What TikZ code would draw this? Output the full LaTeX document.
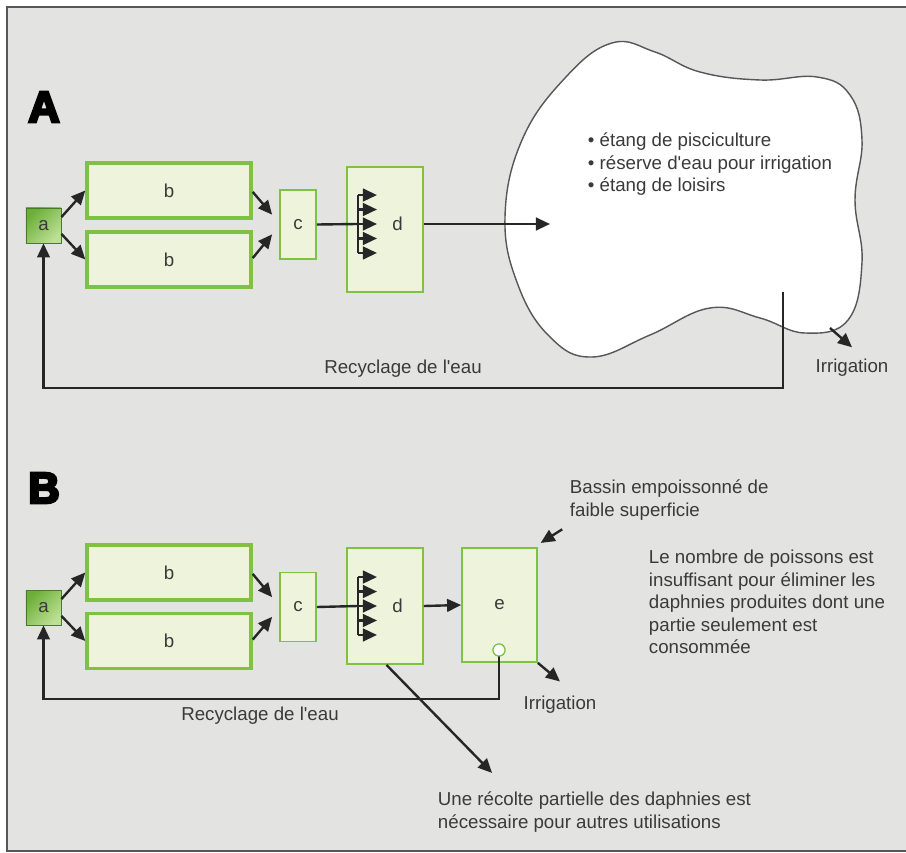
\documentclass[tikz,border=0pt]{standalone}
\usepackage{fontspec}
\setmainfont{Liberation Sans}
\newfontfamily\panelfont[FakeBold=6]{Liberation Sans Bold}
\usetikzlibrary{arrows.meta}

\definecolor{paneback}{HTML}{E3E3E1}
\definecolor{frameline}{HTML}{55575A}
\definecolor{leaf}{HTML}{7FC142}
\definecolor{leaflight}{HTML}{EEF4DC}
\definecolor{leafdark}{HTML}{6BAE38}
\definecolor{leafpale}{HTML}{BDE094}
\definecolor{inkgray}{HTML}{3A3A3A}
\definecolor{arrowink}{HTML}{262626}

\tikzset{
  tank/.style={draw=leaf, line width=2.4pt, fill=leaflight, minimum width=4.1cm, minimum height=1.375cm},
  unit/.style={draw=leaf, line width=1.2pt, fill=leaflight, inner sep=0pt},
  source/.style={draw=leafdark!70!black, line width=0.6pt, minimum size=0.875cm, inner sep=0pt,
    left color=leafdark, right color=leafpale, shading angle=45},
  flow/.style={draw=arrowink, line width=1.7pt, -{Triangle[length=10pt,width=9pt]}},
  plain/.style={draw=arrowink, line width=1.7pt},
  panel/.style={font=\panelfont\fontsize{31}{31}\selectfont, text=black},
}

\begin{document}
\begin{tikzpicture}[x=0.025cm, y=-0.025cm,
    every node/.style={text=inkgray, font=\fontsize{13.3}{16}\selectfont}]
  \useasboundingbox (0,0) rectangle (906,853);
  \fill[white] (0,0) rectangle (906,853);
  \draw[frameline, line width=1.2pt, fill=paneback] (7,7) rectangle (915,851);

  % ---------- Panel A ----------
  \node[panel] (titleA) at (44,107) {A};

  % pond outline
  \draw[frameline, line width=1pt, fill=white] plot[smooth cycle, tension=0.7] coordinates
    { (612,43) (655,52) (700,72) (760,80) (817,77) (850,95) (862,140) (855,200)
      (862,262) (848,320) (805,333) (760,318) (710,308) (650,335) (592,357)
      (550,337) (518,285) (505,217) (522,140) (565,78) };
  \node[anchor=north west, align=left] (pondlist) at (583,128)
    {\textbullet{} étang de pisciculture\\ \textbullet{} réserve d\textquotesingle eau pour irrigation\\ \textbullet{} étang de loisirs};

  % units
  \node[source] (aA) at (43.5,225.5) {a};
  \node[tank] (b1A) at (169,190.5) {b};
  \node[tank] (b2A) at (169,259.5) {b};
  \node[unit, minimum width=0.9cm, minimum height=1.725cm] (cA) at (298,224.5) {c};
  \node[unit, minimum width=1.9cm, minimum height=3.125cm, label={[xshift=9pt,yshift=4pt]center:d}] (dA) at (385,229.5) {};

  \draw[flow] ([yshift=6pt]aA.east) -- (b1A.west);
  \draw[flow] ([yshift=-6pt]aA.east) -- (b2A.west);
  \draw[flow] ([yshift=-1pt]b1A.east) -- ([xshift=-5pt,yshift=7pt]cA.west);
  \draw[flow] ([yshift=1pt]b2A.east) -- ([xshift=-5pt,yshift=-7pt]cA.west);

  % distributor inside d
  \coordinate (hubA) at (358,224);
  \draw[plain] (cA.east) -- (hubA);
  \draw[plain] ([yshift=20.6pt]hubA) -- ([yshift=-20.6pt]hubA);
  \foreach \k in {-2,...,2}
    \draw[flow] ([yshift=\k*10.3pt]hubA) -- ++(19,0);

  % to the pond
  \coordinate (pondIn) at (550,224);
  \draw[flow] (dA.east |- hubA) -- (pondIn);

  % outlets
  \node (irrA) at (852,368) {Irrigation};
  \coordinate (pondIrr) at (830,328);
  \draw[flow] (pondIrr) -- ([yshift=5pt]irrA.north);

  \coordinate (pondOut) at (783,292);
  \coordinate (loopA) at (0,388);
  \draw[flow] (pondOut) -- (pondOut |- loopA) -| (aA.south);
  \node (recA) at (403,369) {Recyclage de l\textquotesingle eau};

  % ---------- Panel B ----------
  \node[panel] (titleB) at (44,488) {B};

  \node[source] (aB) at (43.5,607.5) {a};
  \node[tank] (b1B) at (169,572.5) {b};
  \node[tank] (b2B) at (169,641) {b};
  \node[unit, minimum width=0.9cm, minimum height=1.725cm] (cB) at (298,607) {c};
  \node[unit, minimum width=1.9cm, minimum height=2.9cm, label={[xshift=9pt]center:d}] (dB) at (385,606) {};
  \node[unit, minimum width=1.875cm, minimum height=2.85cm] (eB) at (499.5,605) {e};

  \draw[flow] ([yshift=6pt]aB.east) -- (b1B.west);
  \draw[flow] ([yshift=-6pt]aB.east) -- (b2B.west);
  \draw[flow] ([yshift=-1pt]b1B.east) -- ([xshift=-5pt,yshift=7pt]cB.west);
  \draw[flow] ([yshift=1pt]b2B.east) -- ([xshift=-5pt,yshift=-7pt]cB.west);

  \coordinate (hubB) at (358,606);
  \draw[plain] (cB.east) -- (hubB);
  \draw[plain] ([yshift=20.6pt]hubB) -- ([yshift=-20.6pt]hubB);
  \foreach \k in {-2,...,2}
    \draw[flow] ([yshift=\k*10.3pt]hubB) -- ++(19,0);

  \draw[flow] (dB.east) -- (eB.west);

  % notes
  \node[anchor=north west, align=left] (basin) at (565,475)
    {Bassin empoissonné de\\ faible superficie};
  \draw[flow] ([xshift=-2pt,yshift=-3pt]basin.south west) -- ([shift={(2pt,3pt)}]eB.north east);

  \node[anchor=north west, align=left] (fewfish) at (644,545)
    {Le nombre de poissons est\\ insuffisant pour éliminer les\\ daphnies produites dont une\\ partie seulement est\\ consommée};

  % outlets
  \node[circle, draw=leaf, line width=0.8pt, fill=white, minimum size=0.3cm, inner sep=0pt] (outB) at (499,650) {};
  \node (irrB) at (560,705) {Irrigation};
  \draw[flow] (eB.south east) -- ([yshift=7pt]irrB.north);

  \coordinate (loopB) at (0,699);
  \draw[flow] (outB.center) -- (outB |- loopB) -| (aB.south);
  \node[circle, draw=leaf, line width=0.8pt, fill=white, minimum size=0.3cm, inner sep=0pt] at (outB) {};
  \node (recB) at (260,716) {Recyclage de l\textquotesingle eau};

  \node[anchor=north west, align=left] (harvest) at (433,787)
    {Une récolte partielle des daphnies est\\ nécessaire pour autres utilisations};
  \draw[flow] ([xshift=1pt]dB.south) -- ([xshift=42pt,yshift=10pt]harvest.north west);
\end{tikzpicture}
\end{document}
